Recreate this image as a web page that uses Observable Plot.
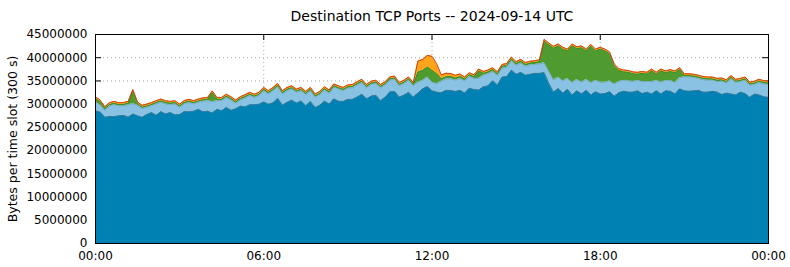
<!DOCTYPE html>
<html>
<head>
<meta charset="utf-8">
<script src="https://cdn.jsdelivr.net/npm/d3@7"></script>
<script src="https://cdn.jsdelivr.net/npm/@observablehq/plot@0.6"></script>
<style>
  html, body { margin: 0; padding: 0; background: #ffffff; }
</style>
</head>
<body>
<div id="chart"></div>
<script>
// ---------- texts and ticks ----------
const title = "Destination TCP Ports -- 2024-09-14 UTC";
const yLabel = "Bytes per time slot (300 s)";
const xTickHours = [0, 6, 12, 18, 24];
const xTickLabels = ["00:00", "06:00", "12:00", "18:00", "00:00"];
const yTicks = [0, 5000000, 10000000, 15000000, 20000000, 25000000, 30000000, 35000000, 40000000, 45000000];

// ---------- layers (bottom to top) ----------
const layers = ["base", "light", "green", "orange"];
const layerFill = ["#0081b3", "#89c2e3", "#4f9b2f", "#ffa41b"];
const layerLine = ["#3b7d9e", "#79aebd", "#3f8c25", "#cc3f18"];

// time slots every 10 minutes, 00:00 .. 24:00 (hours)
const slotHours = d3.range(145).map(i => i / 6);

// ---------- values, millions of bytes per slot ----------
const base = [
  28.6,28.3,27.2,27.35,27.35,27.5,27.6,27.2,27.9,27.5,
  27.2,27.8,28.2,27.6,28.4,27.9,28.2,27.7,27.8,28.4,
  28.35,28.5,28.9,28.35,28.5,28.1,28.9,28.6,29.3,28.7,
  29.0,29.6,29.4,29.9,29.9,30.0,30.5,30.0,30.3,31.25,
  29.8,30.4,30.85,30.25,30.7,29.65,30.6,29.3,29.75,30.65,
  30.05,31.15,30.65,30.6,31.05,31.05,31.55,32.15,31.15,31.75,
  31.95,30.75,31.55,32.65,32.75,31.55,31.95,32.55,31.55,32.4,
  33.3,33.8,32.9,32.6,32.45,33.0,32.95,32.75,33.0,32.4,
  33.45,33.15,33.05,33.75,33.95,35.05,34.15,35.85,35.95,37.35,
  36.45,36.85,36.25,36.45,36.65,36.65,36.8,34.5,32.6,33.4,
  32.4,33.2,32.0,32.9,32.2,33.0,32.0,32.7,32.2,32.3,
  32.7,31.7,32.5,32.8,32.6,32.6,32.9,32.3,32.6,32.2,
  32.9,32.2,32.9,32.8,32.2,33.3,32.9,32.8,32.9,33.0,
  32.6,32.6,32.8,32.6,32.1,32.4,32.2,32.0,32.6,32.3,
  31.5,32.2,32.0,31.6,31.5
];
const light = [
  1.8,1.58,1.45,2.26,2.55,2.11,2.05,2.7,2.2,2.25,
  1.85,1.52,1.45,2.45,2.0,2.15,1.7,2.35,1.52,1.65,
  2.0,1.55,1.5,2.3,2.25,2.4,1.85,2.15,2.15,2.2,
  1.18,1.3,1.93,1.95,1.55,1.85,2.4,2.2,2.6,2.5,
  2.4,2.5,2.4,2.3,2.2,2.4,2.3,2.2,2.3,2.4,
  2.3,2.5,2.6,2.3,2.4,2.5,2.6,2.5,2.4,2.5,
  2.5,2.8,2.6,2.5,2.6,2.4,2.5,2.6,2.4,2.3,
  1.8,2.0,1.8,1.8,2.5,2.4,2.5,2.4,2.5,2.6,
  2.5,2.4,2.5,2.5,2.6,2.0,2.0,1.9,2.0,2.0,
  1.9,2.0,1.9,2.0,1.9,2.0,2.1,2.5,2.6,2.4,
  2.6,2.3,2.6,2.4,2.5,2.3,2.6,2.4,2.5,2.4,
  2.3,2.6,2.4,2.3,2.4,2.3,2.2,2.5,2.3,2.6,
  2.2,2.5,2.2,2.3,2.4,2.4,2.95,3.05,2.85,2.55,
  2.65,2.55,2.35,2.25,2.85,2.15,3.25,2.65,2.25,2.85,
  2.55,2.05,2.65,2.75,2.75
];
const green = [
  0.8,0.6,0.4,0.3,0.3,0.3,0.3,0.3,2.65,0.3,
  0.3,0.3,0.3,0.3,0.3,0.3,0.3,0.3,0.3,0.3,
  0.3,0.3,0.3,0.3,0.3,1.95,0.3,0.3,0.3,0.3,
  0.3,0.3,0.3,0.3,0.3,0.3,0.3,0.3,0.3,0.3,
  0.3,0.3,0.3,0.3,0.3,0.3,0.3,0.3,0.3,0.3,
  0.3,0.3,0.3,0.3,0.3,0.3,0.3,0.3,0.3,0.3,
  0.3,0.3,0.3,0.3,0.3,0.3,0.3,0.3,0.3,2.2,
  2.15,2.2,2.55,2.15,0.5,0.5,0.5,0.45,0.45,0.4,
  0.4,0.4,1.6,0.4,0.4,0.4,0.4,0.4,0.4,0.4,
  0.4,0.4,0.4,0.4,0.4,0.5,4.65,5.75,6.85,6.75,
  6.85,5.95,7.95,6.65,7.45,6.15,7.85,6.35,7.15,6.75,
  5.85,3.95,2.35,1.85,1.85,1.65,1.35,1.85,1.55,2.35,
  1.35,2.45,1.65,1.95,2.15,1.75,0.3,0.3,0.3,0.3,
  0.3,0.3,0.3,0.3,0.3,0.3,0.3,0.3,0.3,0.3,
  0.3,0.3,0.3,0.3,0.3
];
const orange = [
  0.4,0.4,0.4,0.4,0.4,0.4,0.4,0.4,0.4,0.4,
  0.4,0.4,0.4,0.4,0.4,0.4,0.4,0.4,0.4,0.4,
  0.4,0.4,0.4,0.4,0.4,0.4,0.4,0.4,0.4,0.4,
  0.4,0.4,0.4,0.4,0.4,0.4,0.4,0.4,0.4,0.4,
  0.4,0.4,0.4,0.4,0.4,0.4,0.4,0.4,0.4,0.4,
  0.4,0.4,0.4,0.4,0.4,0.4,0.4,0.4,0.4,0.4,
  0.4,0.4,0.4,0.4,0.4,0.4,0.4,0.4,0.4,2.4,
  2.35,2.5,3.05,2.15,0.85,0.75,0.65,0.6,0.55,0.45,
  0.4,0.4,0.4,0.4,0.4,0.4,0.4,0.4,0.4,0.4,
  0.4,0.4,0.4,0.4,0.4,0.4,0.4,0.4,0.4,0.4,
  0.4,0.4,0.4,0.4,0.4,0.4,0.4,0.4,0.4,0.4,
  0.4,0.4,0.4,0.4,0.4,0.4,0.4,0.4,0.4,0.4,
  0.4,0.4,0.4,0.4,0.4,0.4,0.4,0.4,0.4,0.4,
  0.4,0.4,0.4,0.4,0.4,0.4,0.4,0.4,0.4,0.4,
  0.4,0.4,0.4,0.4,0.4
];

// ---------- tidy table ----------
const seriesByLayer = {base, light, green, orange};
const rows = [];
layers.forEach((k, li) => {
  seriesByLayer[k].forEach((v, i) => {
    rows.push({hour: slotHours[i], layer: k, value: v * 1e6, fillColor: layerFill[li], lineColor: layerLine[li]});
  });
});

const W = 790, H = 267, ML = 95, MR = 22, MT = 34, MB = 24;
const plotW = W - ML - MR, plotH = H - MT - MB;
const tickLen = 6;
const gridStyle = {stroke: "#a8a8a8", strokeWidth: 1, strokeDasharray: "1,3"};

const chart = Plot.plot({
  width: W,
  height: H,
  marginLeft: ML,
  marginRight: MR,
  marginTop: MT,
  marginBottom: MB,
  style: {fontFamily: "'DejaVu Sans', sans-serif", fontSize: "12px", color: "#000", background: "#fff", overflow: "visible"},
  x: {domain: [0, 24]},
  y: {domain: [0, 45000000]},
  color: {type: "identity"},
  marks: [
    // dotted grid
    Plot.ruleY(yTicks.slice(1, -1), gridStyle),
    Plot.ruleX(xTickHours.slice(1, -1), gridStyle),
    // inward ticks (mirrored on all sides)
    Plot.tickY(yTicks, {stroke: "#000", insetRight: plotW - tickLen}),
    Plot.tickY(yTicks, {stroke: "#000", insetLeft: plotW - tickLen}),
    Plot.tickX(xTickHours, {stroke: "#000", insetTop: plotH - tickLen}),
    Plot.tickX(xTickHours, {stroke: "#000", insetBottom: plotH - tickLen}),
    // stacked areas
    Plot.areaY(rows, Plot.stackY({x: "hour", y: "value", z: "layer", fill: "fillColor", curve: "linear"})),
    Plot.lineY(rows, Plot.stackY2({x: "hour", y: "value", z: "layer", stroke: "lineColor", strokeWidth: 1, curve: "linear"})),
    // axes
    Plot.axisY({ticks: yTicks, tickSize: 0, tickPadding: 8, tickFormat: d => String(d), label: null, fontSize: 12}),
    Plot.axisX({ticks: xTickHours, tickSize: 0, tickPadding: 8, tickFormat: (d, i) => xTickLabels[i], label: null, fontSize: 12}),
    // labels
    Plot.text([yLabel], {frameAnchor: "left", textAnchor: "middle", rotate: -90, dx: -83, fontSize: 12.5, fill: "#000"}),
    Plot.text([title], {frameAnchor: "top", dy: -23, fontSize: 14, fill: "#000"}),
    Plot.frame({stroke: "#000", strokeWidth: 1})
  ]
});

document.getElementById("chart").appendChild(chart);
</script>
</body>
</html>
